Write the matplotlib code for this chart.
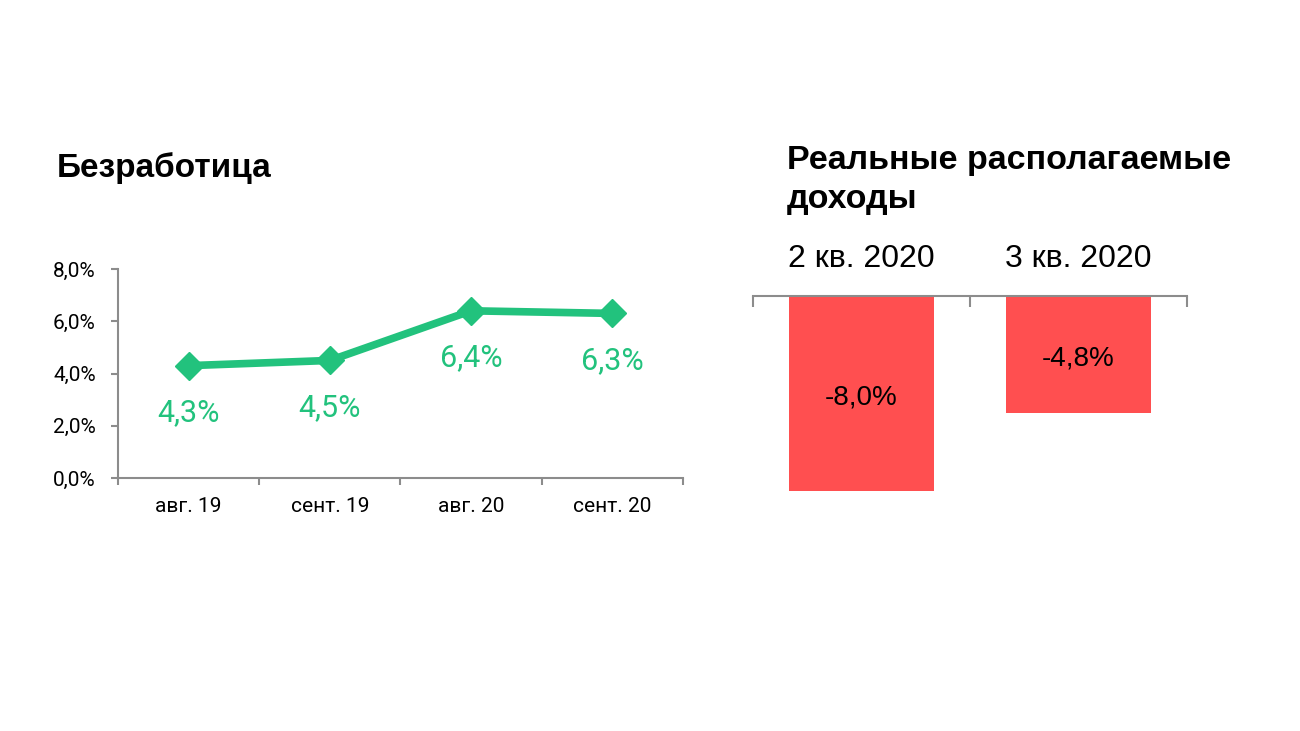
import matplotlib.pyplot as plt
import numpy as np

# data
months = ['авг. 19', 'сент. 19', 'авг. 20', 'сент. 20']
unemployment = [4.3, 4.5, 6.4, 6.3]
unemp_labels = ['4,3%', '4,5%', '6,4%', '6,3%']
yticks = [0, 2, 4, 6, 8]
ytick_labels = ['0,0%', '2,0%', '4,0%', '6,0%', '8,0%']

quarters = ['2 кв. 2020', '3 кв. 2020']
income = [-8.0, -4.8]
income_labels = ['-8,0%', '-4,8%']

GREEN = '#22C27D'
RED = '#FF4F50'
GREY = '#8C8C8C'

W, H = 1300, 731
fig = plt.figure(figsize=(13, 7.31), dpi=100)


def px_axes(x0, y0, x1, y1):
    # pixel box (top-left origin) -> figure fraction
    return fig.add_axes([x0 / W, (H - y1) / H, (x1 - x0) / W, (y1 - y0) / H])


### left: unemployment line ###
ax1 = px_axes(118, 269, 683, 478)
x = np.arange(len(months))
ax1.plot(x, unemployment, color=GREEN, lw=5.5, marker='D', ms=14,
         solid_joinstyle='round')
for xi, v, lab in zip(x, unemployment, unemp_labels):
    ax1.annotate(lab, (xi, v), xytext=(0, -34), textcoords='offset points',
                 ha='center', va='center', color=GREEN, fontsize=22,
                 family='Roboto')
ax1.set_xlim(-0.5, 3.5)
ax1.set_ylim(0, 8)
ax1.set_yticks(yticks)
ax1.set_yticklabels(ytick_labels, family='Roboto', fontsize=15)
ax1.set_xticks(x)
ax1.set_xticklabels(months, family='Roboto', fontsize=15)
ax1.set_xticks(np.arange(-0.5, 4, 1), minor=True)
ax1.tick_params(axis='x', which='major', length=0, pad=14)
ax1.tick_params(axis='x', which='minor', length=5, color=GREY, width=1.5)
ax1.tick_params(axis='y', length=5, color=GREY, width=1.5, pad=11)
for s in ['top', 'right']:
    ax1.spines[s].set_visible(False)
for s in ['left', 'bottom']:
    ax1.spines[s].set_color(GREY)
    ax1.spines[s].set_linewidth(1.5)
ax1.patch.set_alpha(0)

fig.text(57 / W, 1 - 168 / H, 'Безработица', fontsize=24, fontweight='bold',
         family='Liberation Sans', va='center')

### right: real disposable income bars ###
ax2 = px_axes(753, 296, 1187, 491)
xq = np.arange(len(quarters))
ax2.bar(xq, income, width=0.668, color=RED)
for xi, v, lab in zip(xq, income, income_labels):
    ax2.annotate(lab, (xi, v / 2), xytext=(0, -3), textcoords='offset points',
                 ha='center', va='center', fontsize=20,
                 family='Liberation Sans', color='black')
ax2.set_xlim(-0.5, 1.5)
ax2.set_ylim(-8.0, 0)
ax2.set_yticks([])
ax2.set_xticks(xq)
ax2.set_xticklabels(quarters, family='Liberation Sans', fontsize=23)
ax2.xaxis.tick_top()
ax2.set_xticks(np.arange(-0.5, 2, 1), minor=True)
ax2.tick_params(axis='x', which='major', length=0, pad=16, top=True,
                labeltop=True, bottom=False, labelbottom=False)
ax2.tick_params(axis='x', which='minor', length=8, color=GREY, width=1.5,
                direction='in', top=True, bottom=False)
for s in ['bottom', 'left', 'right']:
    ax2.spines[s].set_visible(False)
ax2.spines['top'].set_color(GREY)
ax2.spines['top'].set_linewidth(1.5)
ax2.spines['top'].set_zorder(5)

fig.text(787 / W, 1 - 180 / H, 'Реальные располагаемые\nдоходы', fontsize=24.5,
         fontweight='bold', family='Liberation Sans', va='center',
         linespacing=1.3)

fig.savefig('out.png', dpi=100)
